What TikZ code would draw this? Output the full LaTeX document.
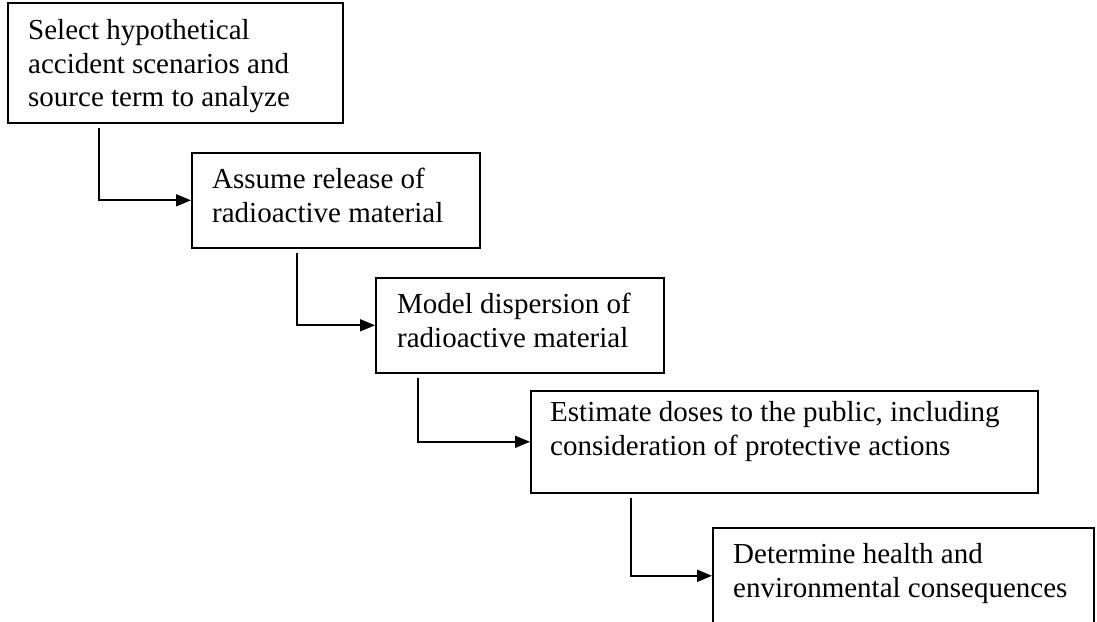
\documentclass[tikz,border=0pt]{standalone}
\usepackage{fontspec}
\setmainfont{Liberation Serif}
\usetikzlibrary{arrows.meta,calc}
\begin{document}
\begin{tikzpicture}[x=1pt,y=-1pt,
  box/.style={draw, line width=1.6pt, anchor=north west, inner sep=0pt},
  txt/.style={anchor=north west, align=left, inner sep=0pt, font=\fontsize{29}{33.5}\selectfont},
  conn/.style={line width=1.8pt, shorten <=4pt, -{Triangle[length=15pt,width=12pt]}}]
\useasboundingbox[fill=white] (0,0) rectangle (1097,621);
\node[box, minimum width=335pt, minimum height=120pt] (b1) at (7,2) {};
\node[box, minimum width=288pt, minimum height=95pt] (b2) at (191,152) {};
\node[box, minimum width=288pt, minimum height=95pt] (b3) at (375,277) {};
\node[box, minimum width=507pt, minimum height=102pt] (b4) at (530,390) {};
\node[box, minimum width=381pt, minimum height=96pt] (b5) at (712,527) {};
\node[txt] (t1) at ($(b1.north west)+(21,14)$) {\strut Select hypothetical\\accident scenarios and\\source term to analyze};
\node[txt] (t2) at ($(b2.north west)+(21,13)$) {\strut Assume release of\\radioactive material};
\node[txt] (t3) at ($(b3.north west)+(22,13)$) {\strut Model dispersion of\\radioactive material};
\node[txt] (t4) at ($(b4.north west)+(20,8)$) {\strut Estimate doses to the public, including\\consideration of protective actions};
\node[txt] (t5) at ($(b5.north west)+(21,13)$) {\strut Determine health and\\environmental consequences};
\draw[conn] ($(b1.south west)+(92,0)$) |- (b2.west);
\draw[conn] ($(b2.south west)+(106,0)$) |- (b3.west);
\draw[conn] ($(b3.south west)+(43,0)$) |- (b4.west);
\draw[conn] ($(b4.south west)+(101,0)$) |- (b5.west);
\end{tikzpicture}
\end{document}
